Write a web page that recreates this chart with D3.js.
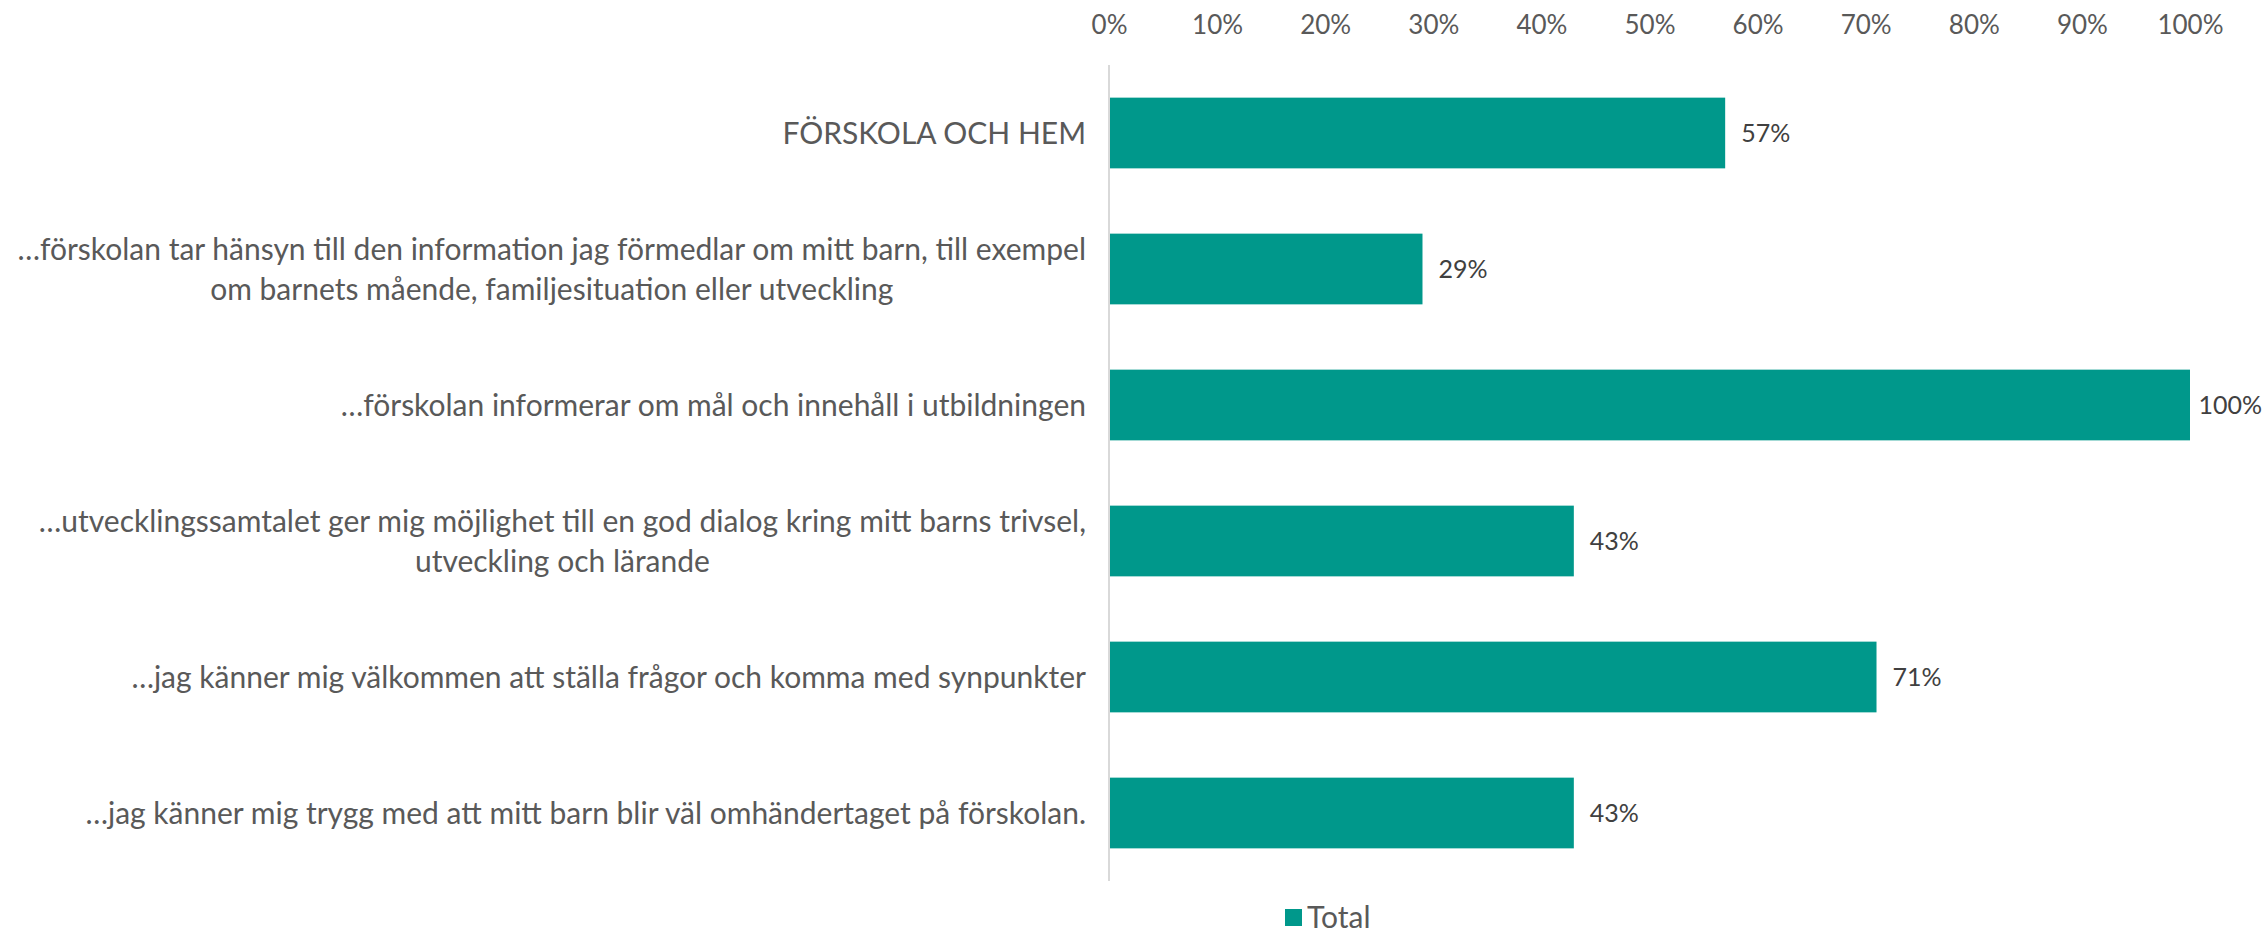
<!DOCTYPE html>
<html>
<head>
<meta charset="utf-8">
<script src="https://cdn.jsdelivr.net/npm/d3@7"></script>
<style>
  body { margin: 0; background: #fff; }
  text { font-family: Lato, "Open Sans", sans-serif; }
</style>
</head>
<body>
<div id="chart"></div>
<script>
// categories (line breaks as in the original wrapped labels)
var categories = [
    "FÖRSKOLA OCH HEM",
    "…förskolan tar hänsyn till den information jag förmedlar om mitt barn, till exempel\nom barnets mående, familjesituation eller utveckling",
    "…förskolan informerar om mål och innehåll i utbildningen",
    "…utvecklingssamtalet ger mig möjlighet till en god dialog kring mitt barns trivsel,\nutveckling och lärande",
    "…jag känner mig välkommen att ställa frågor och komma med synpunkter",
    "…jag känner mig trygg med att mitt barn blir väl omhändertaget på förskolan."
];
var totals = [0.57, 0.29, 1.00, 0.43, 0.71, 0.43];
var tickValues = [0, 0.1, 0.2, 0.3, 0.4, 0.5, 0.6, 0.7, 0.8, 0.9, 1.0];
var seriesName = "Total";

var data = categories.map((c, i) => ({ key: c, value: totals[i] }));

var W = 2264, H = 932;
var margin = { top: 65, right: 74, bottom: 51, left: 1109 },
    width = W - margin.left - margin.right,
    height = H - margin.top - margin.bottom;

var svg = d3.select("#chart")
    .append("svg")
    .attr("width", W)
    .attr("height", H);

var g = svg.append("g")
    .attr("transform", `translate(${margin.left},${margin.top})`);

var x = d3.scaleLinear().domain([0, 1]).range([0, width]);
var y = d3.scaleBand()
    .domain(categories)
    .range([0, height])
    .paddingInner(0.48)
    .paddingOuter(0.24);

// top axis, labels only
var xAxis = g.append("g")
    .call(d3.axisTop(x).tickValues(tickValues).tickFormat(d3.format(".0%")).tickSize(0).tickPadding(0));
xAxis.select(".domain").remove();
xAxis.selectAll("text")
    .attr("y", -40)
    .attr("dy", "0.35em")
    .style("font-family", "Lato, sans-serif")
    .style("font-size", "26px")
    .style("fill", "#595959");

// vertical axis line
g.append("line")
    .attr("x1", x(0)).attr("x2", x(0))
    .attr("y1", 0).attr("y2", height)
    .attr("stroke", "#d9d9d9")
    .attr("stroke-width", 2);

// bars
g.selectAll(".bar")
    .data(data)
    .enter()
    .append("rect")
    .attr("class", "bar")
    .attr("x", x(0) + 1)
    .attr("y", d => y(d.key))
    .attr("width", d => x(d.value) - x(0) - 1)
    .attr("height", y.bandwidth())
    .attr("fill", "#00988b");

// value labels (pulled in if they would run off the right edge)
g.selectAll(".val")
    .data(data)
    .enter()
    .append("text")
    .attr("class", "val")
    .attr("y", d => y(d.key) + y.bandwidth() / 2)
    .attr("dy", "0.35em")
    .style("font-size", "25px")
    .style("fill", "#404040")
    .text(d => d3.format(".0%")(d.value))
    .attr("x", function (d) {
        var w = this.getComputedTextLength();
        return Math.min(x(d.value) + 16, W - margin.left - w - 2);
    });

// category labels: right aligned block, wrapped lines centred in the block
var labelRight = -23, lineH = 40;
data.forEach(function (d) {
    var lines = d.key.split("\n");
    var t = g.append("text")
        .style("font-size", "30px")
        .style("fill", "#595959")
        .attr("text-anchor", "end");
    var cy = y(d.key) + y.bandwidth() / 2;
    lines.forEach(function (ln, i) {
        t.append("tspan")
            .attr("x", labelRight)
            .attr("y", cy + (i - (lines.length - 1) / 2) * lineH)
            .attr("dy", "0.35em")
            .text(ln);
    });
    if (lines.length > 1) {
        var maxW = d3.max(t.selectAll("tspan").nodes(), n => n.getComputedTextLength());
        t.attr("text-anchor", "middle");
        t.selectAll("tspan").attr("x", labelRight - maxW / 2);
    }
});

// legend
var legend = svg.append("g").attr("transform", "translate(1285,909)");
legend.append("rect")
    .attr("width", 17).attr("height", 17)
    .attr("fill", "#00988b");
legend.append("text")
    .attr("x", 22)
    .attr("y", 8)
    .attr("dy", "0.35em")
    .style("font-size", "30px")
    .style("fill", "#595959")
    .text(seriesName);
</script>
</body>
</html>
